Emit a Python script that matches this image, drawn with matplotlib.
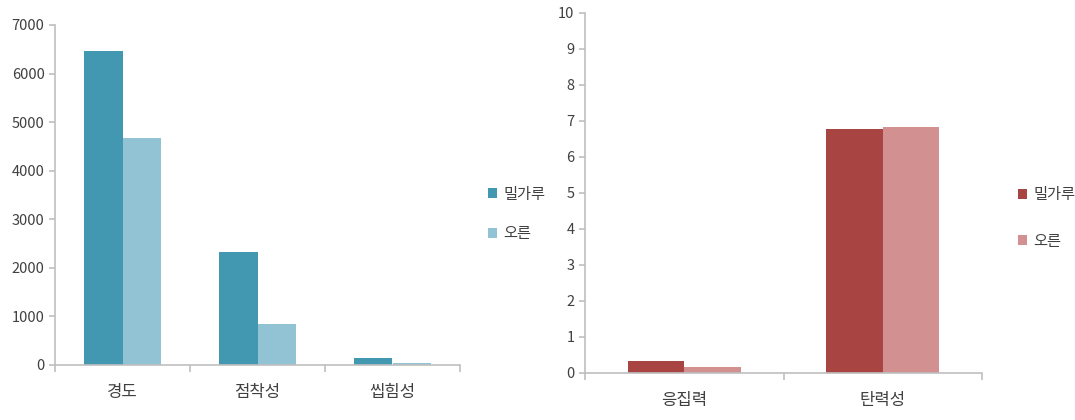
import matplotlib.pyplot as plt
import numpy as np

plt.rcParams['font.family'] = ['Noto Sans CJK KR', 'DejaVu Sans']

# left chart data
cats_left = ['경도', '점착성', '씹힘성']
flour_left = [6465, 2333, 150]
oren_left = [4680, 838, 40]

# right chart data
cats_right = ['응집력', '탄력성']
flour_right = [0.34, 6.77]
oren_right = [0.16, 6.83]

series_names = ['밀가루', '오른']

W, H = 1075, 420
fig = plt.figure(figsize=(W / 100, H / 100), dpi=100)

axis_col = '#BFBFBF'
txt_col = '#404040'


def make_axes(left, top, right, bottom):
    return fig.add_axes([left / W, 1 - bottom / H, (right - left) / W, (bottom - top) / H])


def style(ax, ncat, ymax, ystep):
    for s in ['top', 'right']:
        ax.spines[s].set_visible(False)
    for s in ['left', 'bottom']:
        ax.spines[s].set_color(axis_col)
        ax.spines[s].set_linewidth(1.2)
    ax.set_xlim(-0.5, ncat - 0.5)
    ax.set_ylim(0, ymax)
    ax.set_yticks(np.arange(0, ymax + ystep / 2, ystep))
    ax.tick_params(axis='y', colors=axis_col, labelcolor=txt_col, labelsize=10.5, length=4, width=1.2)
    ax.tick_params(axis='x', which='major', length=0, labelsize=12, labelcolor=txt_col, pad=14)
    ax.set_xticks(np.arange(-0.5, ncat, 1.0), minor=True)
    ax.tick_params(axis='x', which='minor', length=5, color=axis_col, width=1.2)


bw = 0.285

ax1 = make_axes(55, 25, 460, 365)
x1 = np.arange(len(cats_left))
ax1.bar(x1 - bw / 2, flour_left, bw, color='#4298B0', label=series_names[0])
ax1.bar(x1 + bw / 2, oren_left, bw, color='#92C3D5', label=series_names[1])
ax1.set_xticks(x1)
ax1.set_xticklabels(cats_left)
style(ax1, len(cats_left), 7000, 1000)
ax1.legend(loc='center left', bbox_to_anchor=(474 / W, 1 - 214 / H), bbox_transform=fig.transFigure,
           frameon=False, handlelength=0.6, handleheight=0.6, handletextpad=0.4,
           labelspacing=1.5, fontsize=11, labelcolor=txt_col)

ax2 = make_axes(585, 13, 982, 373)
x2 = np.arange(len(cats_right))
ax2.bar(x2 - bw / 2, flour_right, bw, color='#A84543', label=series_names[0])
ax2.bar(x2 + bw / 2, oren_right, bw, color='#D39090', label=series_names[1])
ax2.set_xticks(x2)
ax2.set_xticklabels(cats_right)
style(ax2, len(cats_right), 10, 1)
ax2.legend(loc='center left', bbox_to_anchor=(1004 / W, 1 - 218 / H), bbox_transform=fig.transFigure,
           frameon=False, handlelength=0.6, handleheight=0.6, handletextpad=0.4,
           labelspacing=1.9, fontsize=11, labelcolor=txt_col)

fig.savefig('out.png', dpi=100)
